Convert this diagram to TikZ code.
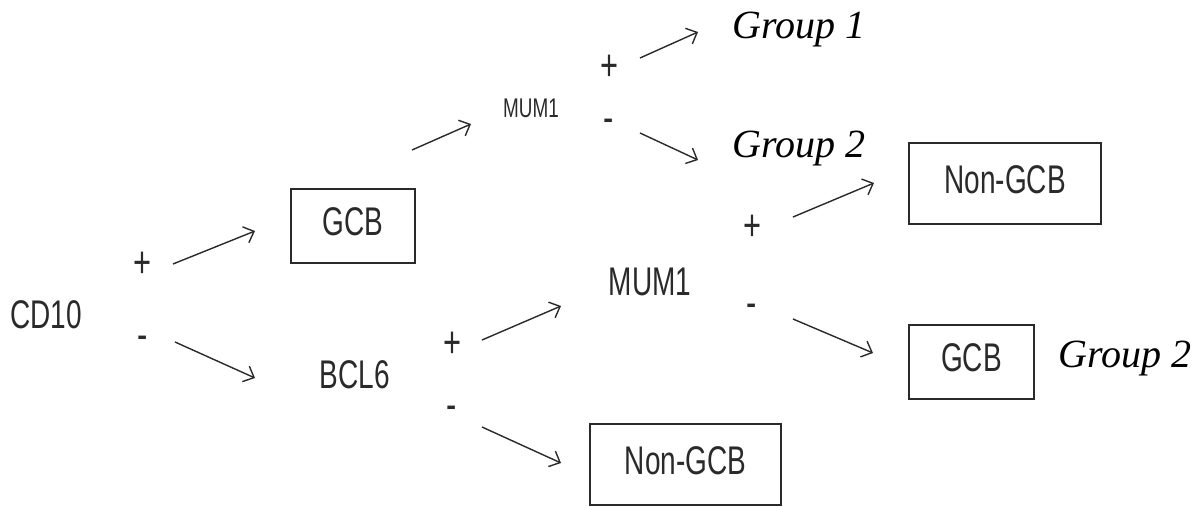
\documentclass[tikz,border=0pt]{standalone}
\usepackage{fontspec}
\setmainfont{Liberation Sans}
\newfontfamily\narrowsans[FakeStretch=0.7]{Liberation Sans}
\newfontfamily\grpfont{Liberation Serif}
\usetikzlibrary{arrows.meta}
\definecolor{ink}{HTML}{2A2A2A}
\begin{document}
\begin{tikzpicture}[x=1pt,y=-1pt,
  lbl/.style={inner sep=0pt,anchor=base,text=ink,font=\narrowsans\fontsize{40}{44}\selectfont},
  smalllbl/.style={inner sep=0pt,anchor=base,text=ink,font=\narrowsans\fontsize{27}{30}\selectfont},
  sign/.style={inner sep=0pt,text=ink,font=\narrowsans\fontsize{44}{48}\selectfont},
  boxnode/.style={draw=ink,line width=1.8pt,inner sep=0pt,text=ink,
    font=\narrowsans\fontsize{40}{44}\selectfont,text height=29pt,text depth=10pt},
  grp/.style={inner sep=0pt,anchor=base west,font=\grpfont\itshape\fontsize{40}{44}\selectfont},
  arr/.style={draw=ink,line width=1.4pt,-{Straight Barb[length=9pt,width=17pt,line width=1.4pt]}}
]
\useasboundingbox[fill=white] (0,0) rectangle (1204,506);

% text labels
\node[lbl] (cd10) at (46,328) {CD10};
\node[lbl] (bcl6) at (355,388) {BCL6};
\node[smalllbl] (mumtop) at (531,117) {MUM1};
\node[lbl] (mummid) at (650,295) {MUM1};

% boxes
\node[boxnode,minimum width=124pt,minimum height=74pt] (gcb1) at (353,226) {GCB};
\node[boxnode,minimum width=192pt,minimum height=81pt] (ngcb1) at (1005,183.5) {Non-GCB};
\node[boxnode,minimum width=125pt,minimum height=74pt] (gcb2) at (971.5,362) {GCB};
\node[boxnode,minimum width=191pt,minimum height=81pt] (ngcb2) at (685.5,464.5) {Non-GCB};

% group labels
\node[grp] (g1) at (732,38) {Group 1};
\node[grp] (g2a) at (732,157) {Group 2};
\node[grp] (g2b) at (1058,367) {Group 2};

% signs
\node[sign] (p1) at (142,265) {+};
\node[sign] (m1) at (143,343) {-};
\node[sign] (p2) at (609,68) {+};
\node[sign] (m2) at (609,126) {-};
\node[sign] (p3) at (752,228) {+};
\node[sign] (m3) at (752,311) {-};
\node[sign] (p4) at (452,345) {+};
\node[sign] (m4) at (452,413) {-};

% arrow end points
\coordinate (a1s) at (173,264); \coordinate (a1e) at (255,231);
\coordinate (a2s) at (175,342); \coordinate (a2e) at (255,378);
\coordinate (a3s) at (412,150); \coordinate (a3e) at (471,124);
\coordinate (a4s) at (640,58);  \coordinate (a4e) at (698,32);
\coordinate (a5s) at (640,133); \coordinate (a5e) at (698,160);
\coordinate (a6s) at (793,217); \coordinate (a6e) at (874,183);
\coordinate (a7s) at (793,319); \coordinate (a7e) at (873,353);
\coordinate (a8s) at (482,340); \coordinate (a8e) at (561,306);
\coordinate (a9s) at (482,427); \coordinate (a9e) at (561,463);

\draw[arr] (a1s) -- (a1e);
\draw[arr] (a2s) -- (a2e);
\draw[arr] (a3s) -- (a3e);
\draw[arr] (a4s) -- (a4e);
\draw[arr] (a5s) -- (a5e);
\draw[arr] (a6s) -- (a6e);
\draw[arr] (a7s) -- (a7e);
\draw[arr] (a8s) -- (a8e);
\draw[arr] (a9s) -- (a9e);
\end{tikzpicture}
\end{document}
